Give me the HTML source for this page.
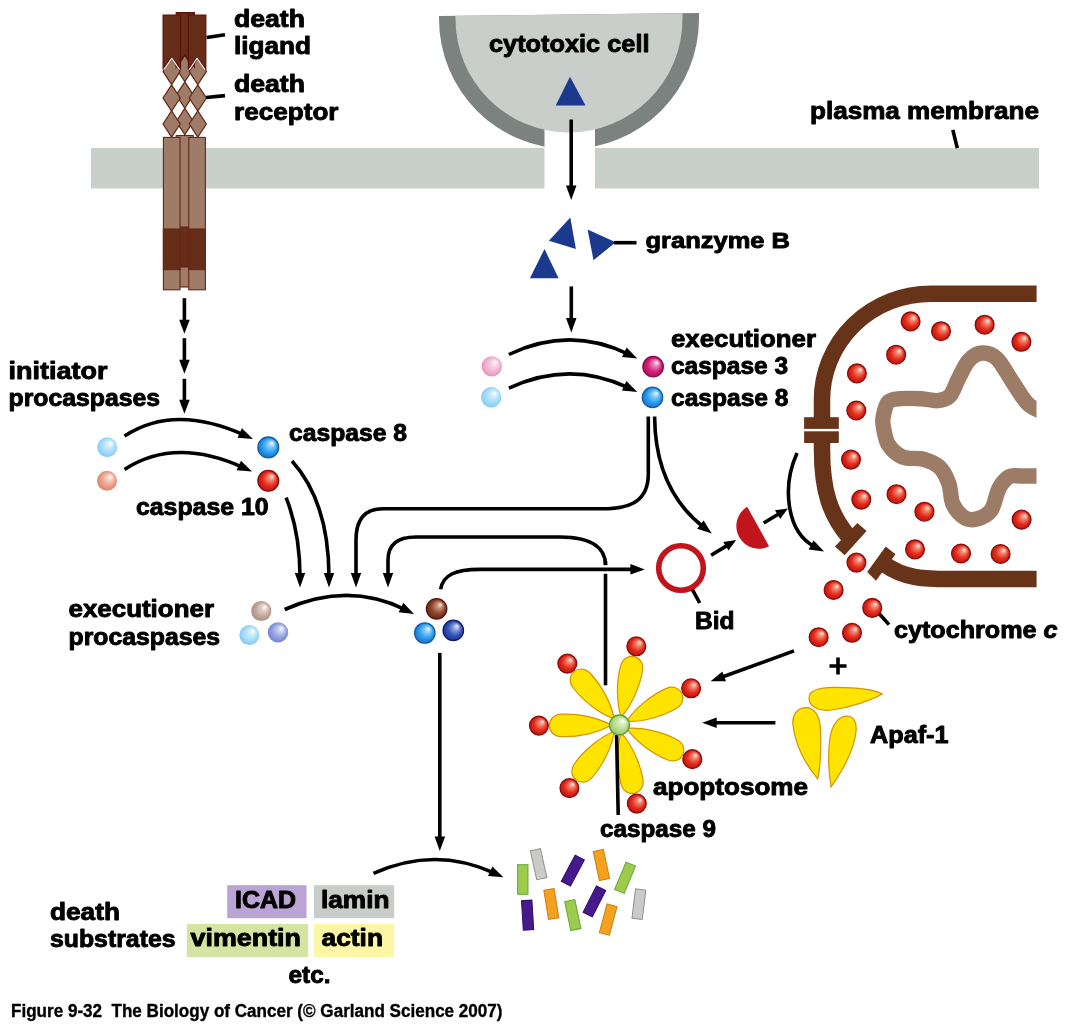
<!DOCTYPE html><html><head><meta charset="utf-8"><style>html,body{margin:0;padding:0;background:#fff;overflow:hidden}svg{display:block;will-change:transform}text{font-family:"Liberation Sans",sans-serif;font-weight:bold;fill:#000;stroke:#000;stroke-width:0.9px;stroke-linejoin:round}</style></head><body>
<svg width="1067" height="1024" viewBox="0 0 1067 1024">
<defs>
<radialGradient id="g_red" cx="0.5" cy="0.5" r="0.55" fx="0.7" fy="0.28"><stop offset="0" stop-color="#fbe8d6"/><stop offset="0.28" stop-color="#ee816f"/><stop offset="0.62" stop-color="#e42c1a"/><stop offset="1" stop-color="#b80c0c"/></radialGradient>
<radialGradient id="g_blue" cx="0.5" cy="0.5" r="0.55" fx="0.7" fy="0.28"><stop offset="0" stop-color="#f4fbff"/><stop offset="0.28" stop-color="#85c9f6"/><stop offset="0.62" stop-color="#2aa0ee"/><stop offset="1" stop-color="#1668c8"/></radialGradient>
<radialGradient id="g_pblue" cx="0.5" cy="0.5" r="0.55" fx="0.7" fy="0.28"><stop offset="0" stop-color="#ffffff"/><stop offset="0.28" stop-color="#ceecfc"/><stop offset="0.62" stop-color="#a6dcfa"/><stop offset="1" stop-color="#7cc8f4"/></radialGradient>
<radialGradient id="g_pred" cx="0.5" cy="0.5" r="0.55" fx="0.7" fy="0.28"><stop offset="0" stop-color="#ffffff"/><stop offset="0.28" stop-color="#f5cbbf"/><stop offset="0.62" stop-color="#eca08a"/><stop offset="1" stop-color="#dd8068"/></radialGradient>
<radialGradient id="g_ppink" cx="0.5" cy="0.5" r="0.55" fx="0.7" fy="0.28"><stop offset="0" stop-color="#ffffff"/><stop offset="0.28" stop-color="#f7d6e5"/><stop offset="0.62" stop-color="#f0b4d0"/><stop offset="1" stop-color="#e58cb8"/></radialGradient>
<radialGradient id="g_mag" cx="0.5" cy="0.5" r="0.55" fx="0.7" fy="0.28"><stop offset="0" stop-color="#fff0f8"/><stop offset="0.28" stop-color="#e67eb3"/><stop offset="0.62" stop-color="#d2207a"/><stop offset="1" stop-color="#a00a50"/></radialGradient>
<radialGradient id="g_pbrown" cx="0.5" cy="0.5" r="0.55" fx="0.7" fy="0.28"><stop offset="0" stop-color="#ffffff"/><stop offset="0.28" stop-color="#dfd0c9"/><stop offset="0.62" stop-color="#c4aa9c"/><stop offset="1" stop-color="#a88878"/></radialGradient>
<radialGradient id="g_lav" cx="0.5" cy="0.5" r="0.55" fx="0.7" fy="0.28"><stop offset="0" stop-color="#ffffff"/><stop offset="0.28" stop-color="#c5cced"/><stop offset="0.62" stop-color="#95a2de"/><stop offset="1" stop-color="#6a7ed0"/></radialGradient>
<radialGradient id="g_brown" cx="0.5" cy="0.5" r="0.55" fx="0.7" fy="0.28"><stop offset="0" stop-color="#f8e0d4"/><stop offset="0.28" stop-color="#bc8a75"/><stop offset="0.62" stop-color="#8a4428"/><stop offset="1" stop-color="#5e2412"/></radialGradient>
<radialGradient id="g_dblue" cx="0.5" cy="0.5" r="0.55" fx="0.7" fy="0.28"><stop offset="0" stop-color="#f0f4ff"/><stop offset="0.28" stop-color="#899cd8"/><stop offset="0.62" stop-color="#3454b8"/><stop offset="1" stop-color="#1a2c90"/></radialGradient>
<radialGradient id="g_green" cx="0.5" cy="0.5" r="0.55" fx="0.7" fy="0.28"><stop offset="0" stop-color="#ffffff"/><stop offset="0.28" stop-color="#d8ecc0"/><stop offset="0.62" stop-color="#b8dc8c"/><stop offset="1" stop-color="#8cc060"/></radialGradient>
</defs>
<rect width="1067" height="1024" fill="#fff"/>
<rect x="91" y="148" width="948" height="40.5" fill="#c9cfcb"/>
<path d="M439,16 L699,13 L699,19 A130,130 0 0 1 439,19 Z" fill="#7c8280"/>
<rect x="544.5" y="100" width="50.5" height="89" fill="#fff"/>
<path d="M455.5,15.8 L682.5,13.2 L682.5,19 A113.5,113.5 0 0 1 455.5,19 Z" fill="#c9cecb"/>
<rect x="176.2" y="135.5" width="17" height="151.5" fill="#9e7c68" stroke="#652616" stroke-width="1.1"/>
<rect x="176.2" y="227" width="17" height="40" fill="#662d18" stroke="#652616" stroke-width="1.1"/>
<rect x="163.4" y="137.4" width="16.6" height="152.4" fill="#9e7c68" stroke="#652616" stroke-width="1.1"/>
<rect x="163.4" y="229" width="16.6" height="40.6" fill="#662d18" stroke="#652616" stroke-width="1.1"/>
<rect x="188.8" y="137.4" width="16.6" height="152.4" fill="#9e7c68" stroke="#652616" stroke-width="1.1"/>
<rect x="188.8" y="229" width="16.6" height="40.6" fill="#662d18" stroke="#652616" stroke-width="1.1"/>
<path d="M184.8,55.3 L193.4,68.5 L184.8,81.7 L176.20000000000002,68.5 Z" fill="#9e7c68" stroke="#652616" stroke-width="1.2"/>
<path d="M184.8,81.8 L193.4,95.0 L184.8,108.2 L176.20000000000002,95.0 Z" fill="#9e7c68" stroke="#652616" stroke-width="1.2"/>
<path d="M184.8,108.3 L193.4,121.5 L184.8,134.7 L176.20000000000002,121.5 Z" fill="#9e7c68" stroke="#652616" stroke-width="1.2"/>
<path d="M171.6,58.2 L180.2,71.4 L171.6,84.60000000000001 L163.0,71.4 Z" fill="#9e7c68" stroke="#652616" stroke-width="1.2"/>
<path d="M171.6,84.8 L180.2,98.0 L171.6,111.2 L163.0,98.0 Z" fill="#9e7c68" stroke="#652616" stroke-width="1.2"/>
<path d="M171.6,110.8 L180.2,124.0 L171.6,137.2 L163.0,124.0 Z" fill="#9e7c68" stroke="#652616" stroke-width="1.2"/>
<path d="M197.8,58.2 L206.4,71.4 L197.8,84.60000000000001 L189.20000000000002,71.4 Z" fill="#9e7c68" stroke="#652616" stroke-width="1.2"/>
<path d="M197.8,84.8 L206.4,98.0 L197.8,111.2 L189.20000000000002,98.0 Z" fill="#9e7c68" stroke="#652616" stroke-width="1.2"/>
<path d="M197.8,110.8 L206.4,124.0 L197.8,137.2 L189.20000000000002,124.0 Z" fill="#9e7c68" stroke="#652616" stroke-width="1.2"/>
<path d="M176.2,12.7 L194.4,12.7 L194.4,67 L184.8,54.9 L176.2,67 Z" fill="#662d18" stroke="#5a1208" stroke-width="1.2"/>
<path d="M163.1,15 L180.5,15 L180.5,68.5 L171.8,57 L163.1,68.5 Z" fill="#662d18" stroke="#5a1208" stroke-width="1.2"/>
<path d="M188.4,15 L205.8,15 L205.8,68.5 L197.10000000000002,57 L188.4,68.5 Z" fill="#662d18" stroke="#5a1208" stroke-width="1.2"/>
<path d="M164.1,69.5 L171.8,58.3 L179.5,69.5" fill="none" stroke="#fff" stroke-width="1.1"/>
<path d="M189.4,69.5 L197.10000000000002,58.3 L204.8,69.5" fill="none" stroke="#fff" stroke-width="1.1"/>
<path d="M206.6,37.5 L225.0,34.7" stroke="#000" stroke-width="3.6" fill="none"/>
<path d="M206.0,97.5 L225.0,95.6" stroke="#000" stroke-width="3.6" fill="none"/>
<path d="M952.8,129.9 L957.3,148.1" stroke="#000" stroke-width="3.6" fill="none"/>
<path d="M570,76.8 L585.5,105.5 L555.7,105.5 Z" fill="#1b3a8e"/>
<path d="M570.3,217.4 L575.9,249 L548.9,240.8 Z" fill="#1b3a8e"/>
<path d="M587.6,229.4 L615.7,242.3 L593.5,260.2 Z" fill="#1b3a8e"/>
<path d="M544.5,249 L558.6,278.3 L529.9,278.3 Z" fill="#1b3a8e"/>
<path d="M614.0,242.7 L636.5,242.7" stroke="#000" stroke-width="3.6" fill="none"/>
<path d="M571.2,200.0 L566.0,185.5 L576.5,185.5 Z" fill="#000"/>
<path d="M571.2,119.5 L571.2,189.8" stroke="#000" stroke-width="3.6" fill="none"/>
<path d="M571.3,332.6 L566.0,318.1 L576.5,318.1 Z" fill="#000"/>
<path d="M571.3,286.4 L571.3,322.5" stroke="#000" stroke-width="3.6" fill="none"/>
<path d="M184.4,333.8 L179.2,319.8 L189.7,319.8 Z" fill="#000"/>
<path d="M184.4,298.2 L184.4,324.0" stroke="#000" stroke-width="3.6" fill="none"/>
<path d="M184.4,373.8 L179.2,359.8 L189.7,359.8 Z" fill="#000"/>
<path d="M184.4,338.2 L184.4,364.0" stroke="#000" stroke-width="3.6" fill="none"/>
<path d="M184.4,413.7 L179.2,399.7 L189.7,399.7 Z" fill="#000"/>
<path d="M184.4,378.8 L184.4,403.9" stroke="#000" stroke-width="3.6" fill="none"/>
<path d="M253.0,439.0 L237.6,437.8 L241.9,428.3 Z" fill="#000"/>
<path d="M124.5,436.0 Q174.2,403.5 243.7,434.8" stroke="#000" stroke-width="3.6" fill="none"/>
<path d="M252.0,471.5 L236.6,470.3 L241.0,460.7 Z" fill="#000"/>
<path d="M124.5,469.4 Q174.8,436.6 242.8,467.3" stroke="#000" stroke-width="3.6" fill="none"/>
<circle cx="107.2" cy="447.2" r="10" fill="url(#g_pblue)"/>
<circle cx="107" cy="480.8" r="10" fill="url(#g_pred)"/>
<circle cx="268.3" cy="447.4" r="10.4" fill="url(#g_blue)" stroke="#1d5aa8" stroke-width="1.3"/>
<circle cx="268.3" cy="480.8" r="10.4" fill="url(#g_red)" stroke="#8a0c0c" stroke-width="1.3"/>
<path d="M637.3,358.5 L622.0,356.9 L626.6,347.4 Z" fill="#000"/>
<path d="M508.9,354.5 Q569.5,325.5 628.2,354.1" stroke="#000" stroke-width="3.6" fill="none"/>
<path d="M637.3,392.0 L621.9,390.5 L626.4,381.1 Z" fill="#000"/>
<path d="M508.9,388.2 Q569.5,359.9 628.1,387.7" stroke="#000" stroke-width="3.6" fill="none"/>
<circle cx="491.8" cy="366.4" r="10.2" fill="url(#g_ppink)"/>
<circle cx="491.2" cy="397.3" r="10.2" fill="url(#g_pblue)"/>
<circle cx="653.1" cy="366.7" r="10.200000000000001" fill="url(#g_mag)" stroke="#8a0a48" stroke-width="1.3"/>
<circle cx="652.5" cy="397.4" r="10.200000000000001" fill="url(#g_blue)" stroke="#1d5aa8" stroke-width="1.3"/>
<path d="M300.0,587.5 L294.8,573.0 L305.2,573.0 Z" fill="#000"/>
<path d="M286.1,497.6 C295.0,520.0 300.0,550.0 300.0,577.4" stroke="#000" stroke-width="3.6" fill="none"/>
<path d="M329.0,587.5 L323.8,573.0 L334.2,573.0 Z" fill="#000"/>
<path d="M292.0,461.0 C318.0,490.0 329.0,530.0 329.0,577.4" stroke="#000" stroke-width="3.6" fill="none"/>
<path d="M356.0,587.5 L350.8,573.0 L361.2,573.0 Z" fill="#000"/>
<path d="M648.3,416.6 L648.3,474 C648.3,500 632,508.8 602,508.8 L383,508.8 Q356,508.8 356,540 L356.0,577.4" stroke="#000" stroke-width="3.6" fill="none"/>
<path d="M388.0,587.5 L382.8,573.0 L393.2,573.0 Z" fill="#000"/>
<path d="M605.5,565 C605.5,550 595,537 560,537 L416,537 Q388,537 388,560 L388.0,577.4" stroke="#000" stroke-width="3.6" fill="none"/>
<path d="M605.5,561.0 L605.5,565.2" stroke="#000" stroke-width="3.6" fill="none"/>
<path d="M605.5,573.8 L605.5,685.3" stroke="#000" stroke-width="3.6" fill="none"/>
<path d="M711.8,533.5 L697.1,528.8 L703.6,520.5 Z" fill="#000"/>
<path d="M654.6,416.6 C655.0,470.0 675.0,505.0 703.8,527.3" stroke="#000" stroke-width="3.6" fill="none"/>
<path d="M414.0,614.0 L398.7,612.3 L403.3,602.8 Z" fill="#000"/>
<path d="M284.7,609.5 Q348.0,581.2 404.9,609.5" stroke="#000" stroke-width="3.6" fill="none"/>
<circle cx="261.3" cy="611" r="10.1" fill="url(#g_pbrown)"/>
<circle cx="249.3" cy="635.1" r="10" fill="url(#g_pblue)"/>
<circle cx="278" cy="632.4" r="10.2" fill="url(#g_lav)"/>
<circle cx="436.6" cy="608.8" r="10.200000000000001" fill="url(#g_brown)" stroke="#5a1410" stroke-width="1.3"/>
<circle cx="424.8" cy="633" r="10.200000000000001" fill="url(#g_blue)" stroke="#1d5aa8" stroke-width="1.3"/>
<circle cx="453.3" cy="630.4" r="10.200000000000001" fill="url(#g_dblue)" stroke="#0e1a68" stroke-width="1.3"/>
<path d="M644.9,569.4 L630.4,574.6 L630.4,564.1 Z" fill="#000"/>
<path d="M440.6,589.3 C443,575 455,569.4 480,569.4 L634.8,569.4" stroke="#000" stroke-width="3.6" fill="none"/>
<path d="M439.8,851.0 L434.6,836.5 L445.1,836.5 Z" fill="#000"/>
<path d="M439.8,652.9 L439.8,840.9" stroke="#000" stroke-width="3.6" fill="none"/>
<path d="M503.4,877.2 L488.0,875.9 L492.4,866.4 Z" fill="#000"/>
<path d="M373.5,873.4 Q434.6,845.7 494.2,873.0" stroke="#000" stroke-width="3.6" fill="none"/>
<circle cx="681" cy="568" r="22.3" fill="none" stroke="#c2141c" stroke-width="5.6"/>
<path d="M692.4,589.6 L699.7,603.0" stroke="#000" stroke-width="3.6" fill="none"/>
<path d="M747.2,506.8 A22.6,22.6 0 0 0 769.1,546.3 Z" fill="#c2141c"/>
<path d="M736.2,540.1 L728.5,550.6 L723.3,542.0 Z" fill="#000"/>
<path d="M711.1,555.2 L729.0,544.4" stroke="#000" stroke-width="3.6" fill="none"/>
<path d="M787.9,508.4 L780.2,518.9 L775.0,510.3 Z" fill="#000"/>
<path d="M763.7,523.0 L780.7,512.7" stroke="#000" stroke-width="3.6" fill="none"/>
<path d="M824.0,551.5 L808.7,549.6 L813.5,540.2 Z" fill="#000"/>
<path d="M797.1,453.1 C782.0,486.0 786.0,532.0 815.0,546.9" stroke="#000" stroke-width="3.6" fill="none"/>
<clipPath id="mclip"><rect x="0" y="0" width="1036.5" height="1024"/></clipPath>
<path d="M1050.0,415.0 C1046.5,413.3 1035.0,410.1 1028.9,404.8 C1022.8,399.5 1018.8,391.0 1013.5,383.3 C1008.2,375.6 1002.3,363.8 997.0,358.7 C991.7,353.6 986.5,352.6 981.7,353.0 C976.9,353.4 972.3,356.4 968.4,360.8 C964.5,365.2 961.3,373.4 958.2,379.2 C955.1,385.0 953.4,392.0 950.0,395.6 C946.6,399.2 942.5,400.2 937.7,400.7 C932.9,401.2 927.4,399.0 921.3,398.7 C915.1,398.4 906.3,398.2 900.8,398.7 C895.3,399.2 891.4,398.9 888.5,401.8 C885.6,404.7 884.2,412.0 883.3,416.1 C882.4,420.2 882.4,421.6 883.3,426.4 C884.2,431.2 885.2,439.7 888.5,444.8 C891.8,449.9 897.0,454.7 902.8,457.1 C908.6,459.5 917.1,457.5 923.3,459.2 C929.4,460.9 935.4,463.3 939.7,467.4 C944.0,471.5 946.7,477.6 948.9,483.8 C951.1,490.0 950.4,498.7 953.0,504.3 C955.6,509.9 960.4,515.1 964.3,517.6 C968.2,520.1 972.1,520.2 976.6,519.0 C981.1,517.8 987.2,515.6 991.0,510.4 C994.8,505.2 996.1,493.5 999.2,487.9 C1002.3,482.3 1005.6,478.6 1009.4,476.6 C1013.1,474.6 1014.9,476.1 1021.7,476.0 C1028.5,475.9 1045.3,476.0 1050.0,476.0" fill="none" stroke="#9d7c67" stroke-width="15.4" clip-path="url(#mclip)"/>
<path d="M1036.6,293.7 L931,293.7 A109,106 0 0 0 822,400 L822,420" fill="none" stroke="#683419" stroke-width="16.5"/>
<rect x="804.1" y="417.2" width="34.7" height="11.7" fill="#683419"/>
<rect x="804.1" y="431.3" width="34.7" height="11.7" fill="#683419"/>
<path d="M822,440 L822,450 C822,490 830,515 849,537" fill="none" stroke="#683419" stroke-width="16.5"/>
<path d="M834.9,546.5 L844.7,555.3 L866.6,530.9 L857.4,523.1 Z" fill="#683419"/>
<path d="M884,564 C905,579 925,579 950,579 L1036.6,579" fill="none" stroke="#683419" stroke-width="16.5"/>
<path d="M867.2,571.9 L876,580.7 L895.5,554.3 L885.7,546.5 Z" fill="#683419"/>
<circle cx="910.6" cy="321.4" r="9.4" fill="url(#g_red)" stroke="#8a0c0c" stroke-width="1.3"/>
<circle cx="941" cy="331.2" r="9.4" fill="url(#g_red)" stroke="#8a0c0c" stroke-width="1.3"/>
<circle cx="984.6" cy="324.7" r="9.4" fill="url(#g_red)" stroke="#8a0c0c" stroke-width="1.3"/>
<circle cx="1021.4" cy="341.8" r="9.4" fill="url(#g_red)" stroke="#8a0c0c" stroke-width="1.3"/>
<circle cx="896.1" cy="354.7" r="9.4" fill="url(#g_red)" stroke="#8a0c0c" stroke-width="1.3"/>
<circle cx="856.9" cy="373.4" r="9.4" fill="url(#g_red)" stroke="#8a0c0c" stroke-width="1.3"/>
<circle cx="856.3" cy="410.5" r="9.4" fill="url(#g_red)" stroke="#8a0c0c" stroke-width="1.3"/>
<circle cx="851" cy="459.6" r="9.4" fill="url(#g_red)" stroke="#8a0c0c" stroke-width="1.3"/>
<circle cx="861.3" cy="499.6" r="9.4" fill="url(#g_red)" stroke="#8a0c0c" stroke-width="1.3"/>
<circle cx="896.5" cy="494.2" r="9.4" fill="url(#g_red)" stroke="#8a0c0c" stroke-width="1.3"/>
<circle cx="924.4" cy="511.7" r="9.4" fill="url(#g_red)" stroke="#8a0c0c" stroke-width="1.3"/>
<circle cx="1021.6" cy="519.6" r="9.4" fill="url(#g_red)" stroke="#8a0c0c" stroke-width="1.3"/>
<circle cx="915" cy="549.4" r="9.4" fill="url(#g_red)" stroke="#8a0c0c" stroke-width="1.3"/>
<circle cx="961" cy="553.5" r="9.4" fill="url(#g_red)" stroke="#8a0c0c" stroke-width="1.3"/>
<circle cx="1000.6" cy="554" r="9.4" fill="url(#g_red)" stroke="#8a0c0c" stroke-width="1.3"/>
<circle cx="856.4" cy="562.6" r="9.4" fill="url(#g_red)" stroke="#8a0c0c" stroke-width="1.3"/>
<circle cx="833.6" cy="590" r="9.4" fill="url(#g_red)" stroke="#8a0c0c" stroke-width="1.3"/>
<circle cx="872.2" cy="607.9" r="9.4" fill="url(#g_red)" stroke="#8a0c0c" stroke-width="1.3"/>
<circle cx="852" cy="632.8" r="9.4" fill="url(#g_red)" stroke="#8a0c0c" stroke-width="1.3"/>
<circle cx="818.6" cy="637.2" r="9.4" fill="url(#g_red)" stroke="#8a0c0c" stroke-width="1.3"/>
<path d="M879.5,614.0 L889.0,624.6" stroke="#000" stroke-width="3.6" fill="none"/>
<path d="M838,657.5 L838,674.5 M829.5,666 L846.5,666" stroke="#000" stroke-width="3.6"/>
<path transform="translate(619.4,725) rotate(-130.3)" d="M8,0 C22,-8 42,-12 58,-11.2 C74,-10.5 74,10.5 58,11.2 C42,12 22,8 8,0 Z" fill="#ffe400" stroke="#d69200" stroke-width="1.2"/>
<path transform="translate(619.4,725) rotate(-77.9)" d="M8,0 C22,-8 42,-12 58,-11.2 C74,-10.5 74,10.5 58,11.2 C42,12 22,8 8,0 Z" fill="#ffe400" stroke="#d69200" stroke-width="1.2"/>
<path transform="translate(619.4,725) rotate(-27.1)" d="M8,0 C22,-8 42,-12 58,-11.2 C74,-10.5 74,10.5 58,11.2 C42,12 22,8 8,0 Z" fill="#ffe400" stroke="#d69200" stroke-width="1.2"/>
<path transform="translate(619.4,725) rotate(25.1)" d="M8,0 C22,-8 42,-12 58,-11.2 C74,-10.5 74,10.5 58,11.2 C42,12 22,8 8,0 Z" fill="#ffe400" stroke="#d69200" stroke-width="1.2"/>
<path transform="translate(619.4,725) rotate(77.5)" d="M8,0 C22,-8 42,-12 58,-11.2 C74,-10.5 74,10.5 58,11.2 C42,12 22,8 8,0 Z" fill="#ffe400" stroke="#d69200" stroke-width="1.2"/>
<path transform="translate(619.4,725) rotate(128.4)" d="M8,0 C22,-8 42,-12 58,-11.2 C74,-10.5 74,10.5 58,11.2 C42,12 22,8 8,0 Z" fill="#ffe400" stroke="#d69200" stroke-width="1.2"/>
<path transform="translate(619.4,725) rotate(179.6)" d="M8,0 C22,-8 42,-12 58,-11.2 C74,-10.5 74,10.5 58,11.2 C42,12 22,8 8,0 Z" fill="#ffe400" stroke="#d69200" stroke-width="1.2"/>
<circle cx="567.3" cy="663.6" r="9.4" fill="url(#g_red)" stroke="#8a0c0c" stroke-width="1.3"/>
<circle cx="636.3" cy="646.3" r="9.4" fill="url(#g_red)" stroke="#8a0c0c" stroke-width="1.3"/>
<circle cx="691.1" cy="688.3" r="9.4" fill="url(#g_red)" stroke="#8a0c0c" stroke-width="1.3"/>
<circle cx="692.3" cy="759.1" r="9.4" fill="url(#g_red)" stroke="#8a0c0c" stroke-width="1.3"/>
<circle cx="636.8" cy="803.6" r="9.4" fill="url(#g_red)" stroke="#8a0c0c" stroke-width="1.3"/>
<circle cx="569.4" cy="788.1" r="9.4" fill="url(#g_red)" stroke="#8a0c0c" stroke-width="1.3"/>
<circle cx="538.9" cy="725.6" r="9.4" fill="url(#g_red)" stroke="#8a0c0c" stroke-width="1.3"/>
<path d="M605.5,685.3 L605.5,685.3" stroke="#000" stroke-width="3.6" fill="none"/>
<path d="M616.6,734.9 L618.2,815.0" stroke="#000" stroke-width="3.6" fill="none"/>
<circle cx="619.4" cy="725" r="10.0" fill="url(#g_green)" stroke="#5aa02a" stroke-width="1.3"/>
<path d="M710.6,681.3 L722.4,671.4 L726.0,681.3 Z" fill="#000"/>
<path d="M794.0,650.9 L720.1,677.8" stroke="#000" stroke-width="3.6" fill="none"/>
<path d="M702.2,722.8 L716.7,717.5 L716.7,728.0 Z" fill="#000"/>
<path d="M775.4,722.8 L712.4,722.8" stroke="#000" stroke-width="3.6" fill="none"/>
<path d="M809,698 C809,691 818,687.5 834,687.4 C855,687.3 872,688.5 882.2,694 C872,700 852,707 832,710 C818,712 809,706 809,698 Z" fill="#ffe400" stroke="#d69200" stroke-width="1.2"/>
<path d="M805.5,707.6 C797,708 792,715 793,725 C795,745 806,765 817.7,778.9 C821,765 821,745 820.5,730 C820,715 814,707.4 805.5,707.6 Z" fill="#ffe400" stroke="#d69200" stroke-width="1.2"/>
<path d="M847.2,716.2 C854,716.5 857,722 856,732 C854,750 843,770 831.1,786.9 C828,770 828,750 830,738 C832,724 839,716 847.2,716.2 Z" fill="#ffe400" stroke="#d69200" stroke-width="1.2"/>
<rect transform="translate(522.8,879.5) rotate(0)" x="-5.2" y="-14.8" width="10.4" height="29.6" fill="#9dcb4c" stroke="#6aa63a" stroke-width="1"/>
<rect transform="translate(538.6,864.2) rotate(-12.6)" x="-5.2" y="-14.8" width="10.4" height="29.6" fill="#c9cbc9" stroke="#8f918f" stroke-width="1"/>
<rect transform="translate(572.8,870.6) rotate(28)" x="-5.2" y="-14.8" width="10.4" height="29.6" fill="#461a8c" stroke="#2a0e60" stroke-width="1"/>
<rect transform="translate(601.4,865) rotate(-12)" x="-5.2" y="-14.8" width="10.4" height="29.6" fill="#f2a21e" stroke="#cf7e10" stroke-width="1"/>
<rect transform="translate(625.1,877.7) rotate(22.6)" x="-5.2" y="-14.8" width="10.4" height="29.6" fill="#9dcb4c" stroke="#6aa63a" stroke-width="1"/>
<rect transform="translate(638.9,904.2) rotate(7)" x="-5.2" y="-14.8" width="10.4" height="29.6" fill="#c9cbc9" stroke="#8f918f" stroke-width="1"/>
<rect transform="translate(527.6,915.2) rotate(-3.5)" x="-5.2" y="-14.8" width="10.4" height="29.6" fill="#461a8c" stroke="#2a0e60" stroke-width="1"/>
<rect transform="translate(551.3,904) rotate(-9)" x="-5.2" y="-14.8" width="10.4" height="29.6" fill="#f2a21e" stroke="#cf7e10" stroke-width="1"/>
<rect transform="translate(572.8,915.1) rotate(-12)" x="-5.2" y="-14.8" width="10.4" height="29.6" fill="#9dcb4c" stroke="#6aa63a" stroke-width="1"/>
<rect transform="translate(594.4,901.4) rotate(27)" x="-5.2" y="-14.8" width="10.4" height="29.6" fill="#461a8c" stroke="#2a0e60" stroke-width="1"/>
<rect transform="translate(608.2,919.6) rotate(15)" x="-5.2" y="-14.8" width="10.4" height="29.6" fill="#f2a21e" stroke="#cf7e10" stroke-width="1"/>
<rect x="227.2" y="885.2" width="79.3" height="33" fill="#b9a4d4"/>
<rect x="314" y="885.2" width="80.2" height="33" fill="#c9cdc9"/>
<rect x="186.8" y="924" width="121.4" height="33" fill="#d5e4a2"/>
<rect x="314" y="924" width="80.2" height="33" fill="#fbf7a4"/>
<text x="234" y="26.799999999999997" font-size="24" textLength="71" lengthAdjust="spacingAndGlyphs">death</text>
<text x="234" y="54.4" font-size="24" textLength="77" lengthAdjust="spacingAndGlyphs">ligand</text>
<text x="234" y="92.4" font-size="24" textLength="71" lengthAdjust="spacingAndGlyphs">death</text>
<text x="234" y="120.4" font-size="24" textLength="104.5" lengthAdjust="spacingAndGlyphs">receptor</text>
<text x="489" y="52.4" font-size="23.5" textLength="160.5" lengthAdjust="spacingAndGlyphs">cytotoxic cell</text>
<text x="810" y="118.9" font-size="23.5" textLength="229" lengthAdjust="spacingAndGlyphs">plasma membrane</text>
<text x="645.5" y="247.6" font-size="22.5" textLength="144.5" lengthAdjust="spacingAndGlyphs">granzyme B</text>
<text x="8.5" y="378.7" font-size="23.5" textLength="99" lengthAdjust="spacingAndGlyphs">initiator</text>
<text x="8.5" y="406.09999999999997" font-size="23.5" textLength="151.5" lengthAdjust="spacingAndGlyphs">procaspases</text>
<text x="289" y="440.9" font-size="23.5" textLength="118" lengthAdjust="spacingAndGlyphs">caspase 8</text>
<text x="136" y="515.4" font-size="23.5" textLength="132.5" lengthAdjust="spacingAndGlyphs">caspase 10</text>
<text x="671" y="346.7" font-size="23.5" textLength="145" lengthAdjust="spacingAndGlyphs">executioner</text>
<text x="671" y="373.79999999999995" font-size="23.5" textLength="117" lengthAdjust="spacingAndGlyphs">caspase 3</text>
<text x="671" y="405.59999999999997" font-size="23.5" textLength="117.5" lengthAdjust="spacingAndGlyphs">caspase 8</text>
<text x="68.5" y="617.4" font-size="23.5" textLength="145.5" lengthAdjust="spacingAndGlyphs">executioner</text>
<text x="68.5" y="645.1999999999999" font-size="23.5" textLength="151.5" lengthAdjust="spacingAndGlyphs">procaspases</text>
<text x="695" y="629.0" font-size="23.5" textLength="39.5" lengthAdjust="spacingAndGlyphs">Bid</text>
<text x="894" y="638.1" font-size="23.5" textLength="163.5" lengthAdjust="spacingAndGlyphs">cytochrome <tspan font-style="italic">c</tspan></text>
<text x="870" y="742.9" font-size="23.5" textLength="78.5" lengthAdjust="spacingAndGlyphs">Apaf-1</text>
<text x="653" y="794.6999999999999" font-size="23.5" textLength="155" lengthAdjust="spacingAndGlyphs">apoptosome</text>
<text x="600" y="836.9" font-size="23.5" textLength="116" lengthAdjust="spacingAndGlyphs">caspase 9</text>
<text x="50" y="920.4" font-size="23.5" textLength="70" lengthAdjust="spacingAndGlyphs">death</text>
<text x="50" y="947.4" font-size="23.5" textLength="125.5" lengthAdjust="spacingAndGlyphs">substrates</text>
<text x="235" y="908.1999999999999" font-size="23.5" textLength="61" lengthAdjust="spacingAndGlyphs">ICAD</text>
<text x="321" y="908.1999999999999" font-size="23.5" textLength="68.5" lengthAdjust="spacingAndGlyphs">lamin</text>
<text x="190.5" y="946.4" font-size="23.5" textLength="110.5" lengthAdjust="spacingAndGlyphs">vimentin</text>
<text x="321.5" y="946.4" font-size="23.5" textLength="61.5" lengthAdjust="spacingAndGlyphs">actin</text>
<text x="288.5" y="982.8" font-size="23.5" textLength="42" lengthAdjust="spacingAndGlyphs">etc.</text>
<text x="11" y="1017.1999999999999" font-size="17.5" textLength="491.5" lengthAdjust="spacingAndGlyphs" xml:space="preserve" style="stroke-width:0.35px">Figure 9-32  The Biology of Cancer (© Garland Science 2007)</text>
</svg></body></html>
